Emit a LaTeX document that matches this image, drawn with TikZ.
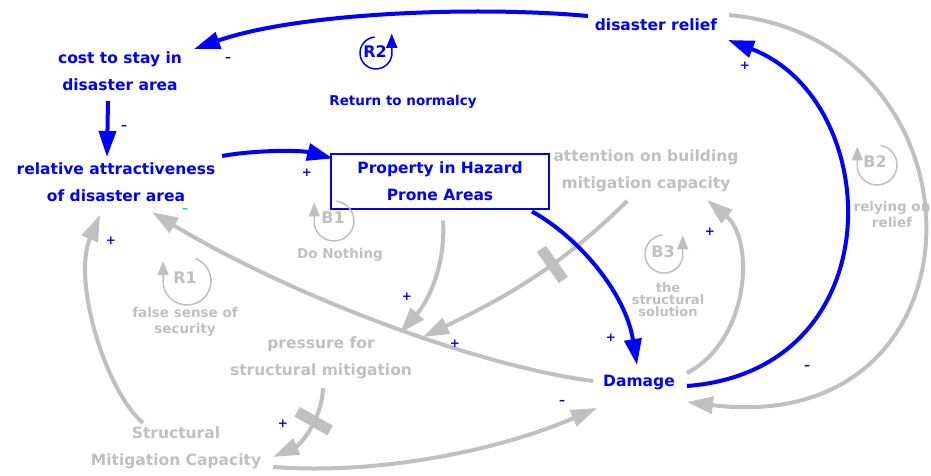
\documentclass[tikz,border=0pt]{standalone}
\usepackage{fontspec}
\setmainfont{DejaVu Sans}
\usetikzlibrary{arrows.meta,calc}
\definecolor{cblue}{RGB}{0,0,255}
\definecolor{cgray}{RGB}{192,192,192}
\definecolor{ccyan}{RGB}{0,215,230}
\begin{document}
\begin{tikzpicture}[x=1pt,y=-1pt,
  vlabel/.style={font=\bfseries\fontsize{15.5}{27}\selectfont, align=center, inner sep=0pt},
  bluet/.style={vlabel,text=cblue},
  grayt/.style={vlabel,text=cgray},
  loopid/.style={font=\bfseries\fontsize{16}{16}\selectfont, inner sep=0pt},
  loopname/.style={font=\bfseries\fontsize{13.5}{16}\selectfont, align=center, inner sep=0pt},
  sign/.style={font=\bfseries\fontsize{12}{12}\selectfont, text=cblue, inner sep=0pt},
  tipb/.style={-{Triangle[length=26pt,width=17pt]}},
  blink/.style={draw=cblue, line width=4pt, tipb},
  glink/.style={draw=cgray, line width=4pt, tipb},
  loopsym/.style={line width=1.5pt, -{Triangle[length=14pt,width=11pt]}},
  delaymark/.style={fill=cgray, minimum width=11pt, minimum height=38pt, inner sep=0pt, sloped, allow upside down},
]
\path[use as bounding box, fill=white] (0,0) rectangle (931,476);

% variables
\node[bluet] (cost) at (120,71) {cost to stay in\\disaster area};
\node[bluet] (rel) at (116,182) {relative attractiveness\\of disaster area};
\node[bluet, draw=cblue, line width=1.5pt, minimum width=218pt, minimum height=55pt] (prop) at (440,181.5) {Property in Hazard\\Prone Areas};
\node[bluet] (relief) at (656,25) {disaster relief};
\node[grayt] (attn) at (646,171) {attention on building\\mitigation capacity};
\node[bluet] (dmg) at (639,383) {Damage};
\node[grayt] (press) at (321,358) {pressure for\\structural mitigation};
\node[grayt] (struct) at (176,448) {Structural\\Mitigation Capacity};

% loop symbols
\node[loopid, text=cblue] (r2) at (375,52) {R2};
\draw[loopsym, cblue] ($(r2)+(1,1)$) ++(265:16) arc[start angle=265, end angle=10, radius=16] -- ++(0,-22);
\node[loopname, text=cblue] (r2n) at (403,102) {Return to normalcy};

\node[loopid, text=cgray] (b1) at (333,218) {B1};
\draw[loopsym, cgray] ($(b1)+(1,3)$) ++(-85:20) arc[start angle=-85, end angle=170, radius=20] -- ++(0,-22);
\node[loopname, text=cgray] (b1n) at (340,255) {Do Nothing};

\node[loopid, text=cgray] (r1) at (185,278) {R1};
\draw[loopsym, cgray] ($(r1)+(2,3)$) ++(-70:24) arc[start angle=-70, end angle=175, radius=24] -- ++(0,-22);
\node[loopname, text=cgray] (r1n) at (185,322) {false sense of\\security};

\node[loopid, text=cgray] (b3) at (663,252) {B3};
\draw[loopsym, cgray] ($(b3)+(1,2)$) ++(265:19) arc[start angle=265, end angle=10, radius=19] -- ++(0,-22);
\node[font=\bfseries\fontsize{13}{12}\selectfont, align=center, inner sep=0pt, text=cgray] (b3n) at (668,300) {the\\structural\\solution};

\node[loopid, text=cgray] (b2) at (875,162) {B2};
\draw[loopsym, cgray] ($(b2)+(2,3)$) ++(-80:20) arc[start angle=-80, end angle=170, radius=20] -- ++(0,-22);
\node[loopname, text=cgray] (b2n) at (892,214) {relying on\\relief};

% gray links
\draw[glink] ($(relief)+(73,-10)$) .. controls (995,40) and (995,440) .. ($(dmg)+(48,19)$);
\draw[glink] ($(dmg)+(-46,-2)$) .. controls (470,365) and (280,290) .. ($(rel)+(36,30)$);
\draw[glink] ($(struct)+(-33,-25)$) .. controls (105,390) and (72,280) .. ($(rel)+(-16,33)$);
\draw[glink] ($(struct)+(97,19)$) .. controls (380,475) and (500,450) .. ($(dmg)+(-42,25)$);
\draw[glink] ($(press)+(2,30)$) .. controls (322,420) and (300,445) .. node[delaymark,pos=0.38]{} ($(struct)+(97,9)$);
\draw[glink] ($(prop)+(3,39)$) .. controls (446,270) and (425,305) .. ($(press)+(79,-25)$);
\draw[glink] ($(attn)+(-19,30)$) .. controls (560,268) and (500,300) .. node[delaymark,pos=0.38]{} ($(press)+(102,-21)$);
\draw[glink] ($(dmg)+(48,-10)$) .. controls (750,340) and (755,240) .. ($(attn)+(61,29)$);

% blue links
\draw[blink] ($(relief)+(-68,-9)$) .. controls (480,6) and (300,12) .. ($(cost)+(74,-22)$);
\draw[blink] ($(cost)+(-12,30)$) -- ($(rel)+(-9,-25)$);
\draw[blink] ($(rel)+(106,-26)$) .. controls (255,150) and (300,150) .. ($(prop)+(-107,-23)$);
\draw[blink] ($(prop)+(92,30)$) .. controls (575,235) and (625,290) .. ($(dmg)+(-2,-18)$);
\draw[blink] ($(dmg)+(48,3)$) .. controls (895,370) and (885,100) .. ($(relief)+(72,15)$);

% polarity signs
\node[sign] (p1) at (228,59) {–};
\node[sign] (p2) at (124,127) {–};
\node[sign] (p3) at (307,173) {+};
\node[sign, text=ccyan] (p4) at (185,210) {–};
\node[sign] (p5) at (111,241) {+};
\node[sign] (p6) at (407,297) {+};
\node[sign] (p7) at (455,344) {+};
\node[sign] (p8) at (283,424) {+};
\node[sign] (p9) at (562,402) {–};
\node[sign] (p10) at (611,338) {+};
\node[sign] (p11) at (710,232) {+};
\node[sign] (p12) at (745,66) {+};
\node[sign] (p13) at (807,367) {–};
\end{tikzpicture}
\end{document}
